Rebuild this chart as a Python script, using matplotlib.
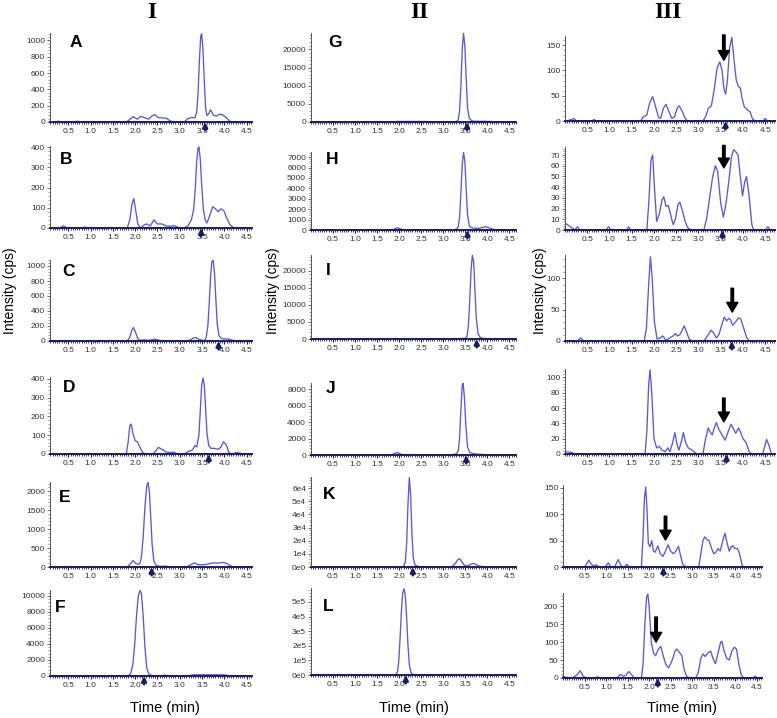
import matplotlib
matplotlib.use('Agg')
import matplotlib.pyplot as plt
from matplotlib.ticker import MultipleLocator, FixedLocator, AutoMinorLocator, FuncFormatter

# chromatogram traces: (time [min], intensity [cps])
A = [(0.09, 0), (0.20, 0), (0.28, 10), (0.36, 0), (0.60, 0), (0.70, 10), (0.80, 0), (1.80, 0), (1.88, 30),
     (1.95, 65), (2.05, 35), (2.13, 70), (2.22, 50), (2.30, 35), (2.38, 75), (2.44, 90), (2.52, 55), (2.60, 50),
     (2.70, 45), (2.80, 10), (2.90, 0), (3.10, 0), (3.18, 40), (3.26, 55), (3.34, 50), (3.38, 120), (3.41, 350),
     (3.44, 750), (3.47, 1050), (3.49, 1080), (3.52, 900), (3.55, 500), (3.58, 170), (3.61, 80), (3.65, 100),
     (3.69, 150), (3.76, 80), (3.82, 75), (3.90, 95), (3.96, 90), (4.04, 55), (4.12, 10), (4.20, 0), (4.35, 0),
     (4.42, 8), (4.50, 0), (4.62, 0)]
B = [(0.09, 0), (0.30, 0), (0.39, 10), (0.48, 0), (0.80, 0), (0.87, 5), (0.94, 0), (1.82, 0), (1.88, 40),
     (1.93, 120), (1.97, 145), (2.01, 90), (2.06, 20), (2.12, 0), (2.20, 15), (2.26, 20), (2.34, 10), (2.42, 40),
     (2.50, 20), (2.60, 20), (2.70, 10), (2.80, 8), (2.87, 12), (2.97, 3), (3.10, 0), (3.18, 10), (3.26, 40),
     (3.31, 90), (3.35, 200), (3.38, 330), (3.41, 395), (3.43, 400), (3.46, 340), (3.49, 220), (3.53, 90),
     (3.57, 40), (3.61, 25), (3.67, 60), (3.74, 105), (3.80, 95), (3.86, 80), (3.93, 95), (3.99, 85), (4.05, 50),
     (4.13, 15), (4.22, 0), (4.62, 0)]
C = [(0.09, 0), (1.82, 0), (1.88, 50), (1.93, 150), (1.96, 180), (2.00, 130), (2.06, 30), (2.12, 10), (2.20, 15),
     (2.28, 10), (2.36, 15), (2.44, 25), (2.50, 15), (2.60, 5), (2.80, 0), (3.10, 0), (3.22, 10), (3.30, 40),
     (3.36, 45), (3.44, 20), (3.55, 5), (3.59, 40), (3.63, 200), (3.66, 500), (3.69, 850), (3.72, 1060),
     (3.75, 1075), (3.78, 900), (3.81, 550), (3.84, 230), (3.88, 70), (3.93, 35), (3.98, 25), (4.04, 30),
     (4.10, 25), (4.18, 10), (4.30, 0), (4.50, 0), (4.56, 8), (4.62, 5)]
D = [(0.09, 0), (1.80, 0), (1.84, 60), (1.88, 150), (1.91, 160), (1.95, 110), (2.00, 70), (2.05, 65), (2.10, 40),
     (2.16, 10), (2.24, 0), (2.40, 0), (2.46, 15), (2.52, 35), (2.60, 25), (2.70, 10), (2.80, 8), (2.86, 10),
     (2.95, 0), (3.10, 0), (3.20, 15), (3.28, 20), (3.34, 45), (3.38, 38), (3.43, 100), (3.46, 230), (3.49, 360),
     (3.52, 405), (3.55, 370), (3.58, 240), (3.61, 110), (3.65, 45), (3.70, 30), (3.78, 30), (3.86, 25),
     (3.92, 35), (3.98, 65), (4.04, 50), (4.10, 10), (4.16, 0), (4.28, 8), (4.34, 5), (4.40, 0), (4.62, 0)]
E = [(0.09, 0), (0.50, 0), (0.57, 15), (0.64, 0), (0.95, 0), (1.00, 15), (1.05, 0), (1.82, 0), (1.90, 90),
     (1.95, 170), (2.01, 100), (2.06, 70), (2.10, 80), (2.14, 250), (2.18, 800), (2.22, 1600), (2.26, 2150),
     (2.29, 2230), (2.32, 1950), (2.35, 1300), (2.38, 600), (2.42, 150), (2.47, 40), (2.54, 20), (2.62, 20),
     (2.68, 25), (2.76, 5), (2.90, 0), (3.15, 0), (3.25, 60), (3.33, 110), (3.42, 60), (3.52, 60), (3.60, 70),
     (3.68, 90), (3.76, 110), (3.84, 100), (3.92, 115), (3.98, 120), (4.06, 90), (4.12, 40), (4.20, 0),
     (4.62, 0)]
F = [(0.09, 0), (1.78, 0), (1.84, 50), (1.90, 300), (1.95, 1500), (1.99, 4000), (2.03, 7500), (2.07, 10000),
     (2.11, 10700), (2.14, 10300), (2.18, 7500), (2.22, 3500), (2.26, 1000), (2.31, 200), (2.38, 50),
     (2.60, 40), (2.66, 120), (2.72, 40), (3.20, 40), (3.30, 150), (3.60, 150), (4.00, 150), (4.10, 40),
     (4.62, 0)]
G = [(0.0, 0), (1.85, 0), (1.95, 150), (2.60, 150), (2.70, 0), (3.26, 0), (3.30, 150), (3.34, 600),
     (3.37, 3000), (3.40, 10000), (3.43, 20000), (3.46, 24400), (3.49, 21000), (3.52, 12000), (3.55, 4000),
     (3.59, 1000), (3.65, 300), (3.70, 200), (3.90, 200), (4.10, 150), (4.15, 0), (4.65, 0)]
H = [(0.0, 0), (1.85, 0), (1.92, 150), (1.97, 220), (2.03, 100), (2.10, 0), (3.20, 0), (3.30, 80), (3.34, 300),
     (3.37, 1200), (3.40, 3500), (3.43, 6300), (3.46, 7450), (3.49, 6600), (3.52, 4000), (3.55, 1500),
     (3.59, 400), (3.65, 200), (3.80, 150), (3.90, 250), (3.97, 320), (4.05, 200), (4.15, 50), (4.25, 0),
     (4.65, 0)]
I = [(0.0, 0), (1.85, 0), (1.93, 150), (2.00, 0), (3.25, 0), (3.35, 150), (3.50, 200), (3.54, 800),
     (3.57, 4000), (3.60, 11000), (3.63, 20000), (3.66, 24500), (3.69, 22500), (3.72, 14000), (3.75, 6000),
     (3.79, 1500), (3.84, 400), (3.90, 200), (4.00, 100), (4.10, 0), (4.65, 0)]
J = [(0.0, 0), (1.82, 0), (1.90, 200), (1.96, 300), (2.04, 100), (2.10, 50), (2.40, 50), (2.50, 0), (3.15, 0),
     (3.25, 100), (3.30, 150), (3.34, 500), (3.37, 2000), (3.40, 5500), (3.43, 8500), (3.45, 8700),
     (3.48, 7000), (3.51, 3800), (3.55, 1000), (3.60, 300), (3.70, 150), (3.80, 100), (3.95, 50), (4.05, 0),
     (4.65, 0)]
K = [(0.0, 0), (1.86, 0), (1.90, 500), (1.95, 0), (2.06, 0), (2.10, 500), (2.14, 4000), (2.17, 18000),
     (2.20, 48000), (2.23, 68000), (2.26, 55000), (2.29, 25000), (2.32, 7000), (2.36, 1500), (2.42, 500),
     (2.50, 300), (2.60, 200), (3.15, 0), (3.22, 800), (3.28, 3000), (3.33, 5500), (3.37, 6400), (3.42, 4000),
     (3.48, 1200), (3.55, 800), (3.62, 2000), (3.68, 2800), (3.74, 2000), (3.80, 800), (3.90, 300), (4.00, 0),
     (4.65, 0)]
L = [(0.0, 0), (1.88, 0), (1.92, 2000), (1.96, 20000), (1.99, 90000), (2.02, 250000), (2.05, 430000),
     (2.08, 560000), (2.11, 590000), (2.14, 540000), (2.17, 390000), (2.20, 200000), (2.23, 70000),
     (2.27, 15000), (2.33, 0), (4.65, 0)]
III_1 = [(0.02, 0), (0.15, 3), (0.20, 5), (0.26, 0), (0.60, 0), (0.65, 3), (0.70, 0), (1.70, 0), (1.76, 8),
         (1.84, 12), (1.90, 35), (1.97, 48), (2.03, 30), (2.10, 8), (2.15, 5), (2.21, 25), (2.27, 33), (2.33, 20),
         (2.40, 5), (2.46, 8), (2.52, 25), (2.57, 30), (2.63, 20), (2.70, 5), (2.76, 0), (3.10, 0), (3.17, 10),
         (3.22, 25), (3.29, 30), (3.35, 60), (3.42, 105), (3.48, 117), (3.53, 100), (3.57, 65), (3.61, 53),
         (3.65, 80), (3.70, 145), (3.75, 165), (3.80, 120), (3.85, 80), (3.90, 68), (3.94, 65), (3.98, 45),
         (4.03, 28), (4.10, 22), (4.16, 18), (4.22, 3), (4.30, 0), (4.45, 0), (4.50, 5), (4.55, 0), (4.72, 0)]
III_2 = [(0.02, 6), (0.16, 2), (0.22, 0), (0.28, 3), (0.34, 0), (0.92, 0), (0.98, 3), (1.04, 0), (1.38, 0),
         (1.43, 3), (1.48, 0), (1.84, 0), (1.89, 30), (1.93, 65), (1.97, 70), (2.01, 40), (2.06, 8), (2.12, 15),
         (2.18, 28), (2.22, 31), (2.27, 22), (2.32, 23), (2.37, 15), (2.43, 5), (2.48, 10), (2.54, 24), (2.58, 26),
         (2.64, 18), (2.70, 8), (2.76, 2), (2.84, 0), (3.12, 0), (3.18, 10), (3.25, 30), (3.32, 50), (3.38, 60),
         (3.43, 55), (3.50, 25), (3.56, 12), (3.62, 25), (3.68, 45), (3.74, 68), (3.79, 75), (3.84, 73),
         (3.89, 70), (3.94, 50), (3.99, 32), (4.04, 45), (4.08, 50), (4.13, 35), (4.20, 5), (4.24, 0), (4.50, 0),
         (4.56, 3), (4.62, 0), (4.72, 0)]
III_3 = [(0.02, 0), (0.28, 0), (0.35, 5), (0.42, 0), (1.78, 0), (1.83, 20), (1.88, 90), (1.92, 134), (1.96, 100),
         (2.01, 30), (2.07, 3), (2.14, 5), (2.20, 8), (2.26, 2), (2.32, 3), (2.38, 6), (2.43, 8), (2.48, 12),
         (2.53, 8), (2.58, 10), (2.64, 18), (2.68, 24), (2.73, 15), (2.79, 3), (2.86, 0), (3.12, 0), (3.20, 8),
         (3.28, 17), (3.33, 14), (3.40, 5), (3.46, 10), (3.52, 25), (3.58, 38), (3.63, 32), (3.68, 36), (3.72, 34),
         (3.77, 25), (3.83, 30), (3.90, 37), (3.95, 35), (4.01, 22), (4.08, 6), (4.15, 0), (4.72, 0)]
III_4 = [(0.02, 3), (0.16, 2), (0.22, 0), (1.80, 0), (1.84, 30), (1.88, 90), (1.91, 110), (1.95, 80), (2.00, 20),
         (2.06, 8), (2.12, 10), (2.18, 5), (2.25, 3), (2.31, 8), (2.36, 3), (2.42, 15), (2.47, 28), (2.52, 12),
         (2.56, 5), (2.61, 15), (2.66, 28), (2.71, 15), (2.77, 8), (2.86, 5), (2.96, 0), (3.10, 0), (3.16, 20),
         (3.22, 34), (3.27, 28), (3.31, 25), (3.36, 35), (3.40, 41), (3.46, 32), (3.53, 25), (3.60, 18),
         (3.66, 28), (3.73, 39), (3.79, 32), (3.84, 27), (3.90, 34), (3.95, 28), (4.00, 20), (4.07, 15),
         (4.14, 3), (4.20, 0), (4.44, 0), (4.48, 8), (4.53, 19), (4.58, 12), (4.64, 0), (4.72, 0)]
III_5 = [(0.0, 0), (0.50, 0), (0.55, 6), (0.60, 13), (0.66, 5), (0.72, 2), (0.77, 4), (0.83, 0), (0.98, 0),
         (1.05, 8), (1.11, 0), (1.20, 0), (1.28, 14), (1.35, 2), (1.42, 0), (1.48, 5), (1.54, 0), (1.82, 0),
         (1.86, 60), (1.89, 130), (1.92, 151), (1.95, 110), (1.98, 45), (2.02, 38), (2.06, 50), (2.10, 30),
         (2.14, 28), (2.20, 40), (2.26, 25), (2.32, 20), (2.38, 30), (2.44, 42), (2.50, 30), (2.56, 25), (2.62, 30),
         (2.68, 39), (2.72, 25), (2.78, 5), (2.86, 0), (3.15, 0), (3.20, 25), (3.25, 50), (3.29, 57), (3.34, 52),
         (3.39, 50), (3.45, 35), (3.50, 25), (3.55, 28), (3.60, 35), (3.65, 30), (3.71, 50), (3.76, 64),
         (3.81, 45), (3.86, 30), (3.90, 38), (3.94, 40), (3.99, 35), (4.05, 35), (4.10, 25), (4.16, 3), (4.20, 0),
         (4.62, 0)]
III_6 = [(0.0, 5), (0.08, 2), (0.20, 0), (0.32, 8), (0.40, 20), (0.47, 5), (0.54, 0), (0.72, 0), (0.80, 3),
         (0.88, 0), (1.25, 0), (1.33, 10), (1.40, 5), (1.46, 8), (1.53, 18), (1.60, 8), (1.66, 0), (1.82, 0),
         (1.86, 40), (1.90, 150), (1.94, 225), (1.97, 234), (2.00, 200), (2.05, 100), (2.10, 70), (2.15, 62),
         (2.21, 80), (2.27, 88), (2.32, 65), (2.38, 40), (2.45, 28), (2.50, 40), (2.55, 55), (2.60, 75), (2.64, 81),
         (2.70, 72), (2.76, 62), (2.81, 25), (2.87, 5), (2.94, 0), (3.08, 0), (3.14, 15), (3.20, 55), (3.25, 67),
         (3.30, 60), (3.36, 70), (3.43, 75), (3.48, 55), (3.54, 40), (3.60, 70), (3.66, 100), (3.69, 102),
         (3.74, 75), (3.80, 55), (3.86, 50), (3.92, 75), (3.98, 86), (4.03, 80), (4.08, 40), (4.14, 8), (4.20, 0),
         (4.40, 0), (4.46, 5), (4.52, 0), (4.62, 0)]

# expected retention time of each panel (small blue arrow under the axis)
rt_marks = [3.57, 3.48, 3.87, 3.65, 2.37, 2.20,
            3.54, 3.55, 3.76, 3.52, 2.31, 2.15,
            3.61, 3.54, 3.75, 3.63, 2.33, 2.20]

# black arrows in column III: time, head (cps), tail (cps)
peak_arrows = [(3.57, 120, 170), (3.57, 58, 79), (3.76, 46, 84),
               (3.57, 42, 73), (2.38, 51, 96), (2.16, 100, 170)]

traces = [A, B, C, D, E, F, G, H, I, J, K, L, III_1, III_2, III_3, III_4, III_5, III_6]
letters = list('ABCDEFGHIJKL') + [''] * 6

W, H_PX = 777, 718
LINE = '#5858e0'
NAVY = '#1c1c60'

# panel layout in pixels: left, right, xlim per column; top, bottom, ylim top, y step per panel
col_x = [(50, 252, (0.09, 4.62)), (311, 516, (0.0, 4.65)), (565, 775, (0.0, 4.72))]
rows = [
    [(33, 122, 1090, 200), (146, 228, 405, 100), (260, 341, 1080, 200),
     (377, 454, 410, 100), (482, 567, 2240, 500), (590, 676, 10750, 2000)],
    [(33, 122, 24500, 5000), (152, 230, 7500, 1000), (255, 339, 24600, 5000),
     (383, 455, 8750, 2000), (477, 567, 68500, 10000), (588, 675, 595000, 100000)],
    [(36, 121, 168, 50), (147, 230, 77.5, 10), (255, 341, 137, 50),
     (369, 454, 111, 20), (485, 567, 155, 50), (593, 678, 237, 50)],
]
letter_pos = [(0.095, 0.89), (0.05, 0.83), (0.06, 0.86), (0.065, 0.86), (0.045, 0.82), (0.025, 0.80),
              (0.083, 0.89), (0.073, 0.91), (0.073, 0.81), (0.073, 0.92), (0.06, 0.81), (0.06, 0.79)]

fig = plt.figure(figsize=(W / 100, H_PX / 100), dpi=100)


def px_axes(l, t, r, b):
    return fig.add_axes([l / W, 1 - b / H_PX, (r - l) / W, (b - t) / H_PX])


def exp_fmt(exp):
    return FuncFormatter(lambda v, pos: '0e0' if v == 0 else f'{int(round(v / 10 ** exp))}e{exp}')


k = 0
for c in range(3):
    for r in range(6):
        top, bot, ytop, ystep = rows[c][r]
        left, right, xl = col_x[c]
        if c == 2 and r >= 4:
            left, right, xl = 563, 762, (0.0, 4.62)
        ax = px_axes(left, top, right, bot)
        t, y = zip(*traces[k])
        ax.plot(t, y, color=LINE, lw=0.95, solid_joinstyle='round', clip_on=False)
        ax.set_xlim(*xl)
        ax.set_ylim(0, ytop)
        ax.xaxis.set_major_locator(FixedLocator([0.5, 1.0, 1.5, 2.0, 2.5, 3.0, 3.5, 4.0, 4.5]))
        ax.xaxis.set_minor_locator(MultipleLocator(0.05))
        ax.xaxis.set_major_formatter(FuncFormatter(lambda v, pos: f'{v:.1f}'))
        ax.yaxis.set_major_locator(MultipleLocator(ystep))
        ax.yaxis.set_minor_locator(AutoMinorLocator(5))
        if k == 10:
            ax.yaxis.set_major_formatter(exp_fmt(4))
        elif k == 11:
            ax.yaxis.set_major_formatter(exp_fmt(5))
        for s in ('top', 'right'):
            ax.spines[s].set_visible(False)
        ax.spines['bottom'].set_color(NAVY)
        ax.spines['bottom'].set_linewidth(1.4)
        ax.spines['left'].set_color('#555555')
        ax.spines['left'].set_linewidth(0.7)
        ax.tick_params(axis='x', which='major', length=2.5, width=0.8, color=NAVY, pad=1.5,
                       labelsize=6, labelcolor='#333333')
        ax.tick_params(axis='x', which='minor', length=1.5, width=0.6, color=NAVY)
        ax.tick_params(axis='y', which='major', length=2.5, width=0.6, color='#555555', pad=1,
                       labelsize=6, labelcolor='#333333')
        ax.tick_params(axis='y', which='minor', length=1.2, width=0.5, color='#777777')
        for lab in ax.get_xticklabels() + ax.get_yticklabels():
            lab.set_family('Liberation Sans')

        # expected retention time marker
        ax.annotate('', xy=(rt_marks[k], 0), xycoords=('data', 'axes fraction'),
                    xytext=(0, -6), textcoords='offset points',
                    arrowprops=dict(arrowstyle='-|>', color=NAVY, lw=1.8, mutation_scale=7,
                                    shrinkA=0, shrinkB=0), annotation_clip=False)
        if c == 2:
            at, tip, tail = peak_arrows[r]
            ax.annotate('', xy=(at, tip), xytext=(at, tail),
                        arrowprops=dict(facecolor='black', edgecolor='black', width=1.8,
                                        headwidth=8, headlength=7, shrink=0),
                        annotation_clip=False)
        if letters[k]:
            lx, ly = letter_pos[k]
            ax.text(lx, ly, letters[k], transform=ax.transAxes, fontsize=12.5, fontweight='bold',
                    family='Liberation Sans', ha='left', va='center')
        k += 1

for x, s in [(152, 'I'), (419, 'II'), (668, 'III')]:
    fig.text(x / W, 1 - 13 / H_PX, s, ha='center', va='center', fontsize=17, fontweight='bold',
             family='Liberation Serif')
for x in (10, 273, 540):
    fig.text(x / W, 1 - 291 / H_PX, 'Intensity (cps)', rotation=90, ha='center', va='center',
             fontsize=10, family='Liberation Sans')
for x in (165, 414, 682):
    fig.text(x / W, 1 - 708 / H_PX, 'Time (min)', ha='center', va='center', fontsize=10.5,
             family='Liberation Sans')

fig.savefig('out.png', dpi=100)
